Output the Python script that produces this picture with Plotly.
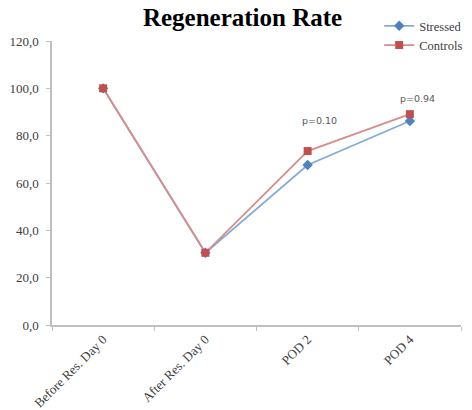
import plotly.graph_objects as go

categories = ["Before Res. Day 0", "After Res. Day 0", "POD 2", "POD 4"]
stressed = [100.0, 30.5, 67.6, 86.2]
controls = [100.0, 30.5, 73.5, 89.1]
p_labels = ["p=0.10", "p=0.94"]
p_cats = ["POD 2", "POD 4"]
p_y = [86.2, 95.5]
y_ticks = [0, 20, 40, 60, 80, 100, 120]

fig = go.Figure()
fig.add_trace(go.Scatter(x=categories, y=stressed, name="Stressed", mode="lines+markers",
                         line=dict(color="#86AAD6", width=1.8),
                         marker=dict(symbol="diamond", size=8, color="#4F81BD")))
fig.add_trace(go.Scatter(x=categories, y=controls, name="Controls", mode="lines+markers",
                         line=dict(color="#D58E8C", width=1.8),
                         marker=dict(symbol="square", size=8, color="#C0504D")))
for c, t, yv, xs in zip(p_cats, p_labels, p_y, [12, 8]):
    fig.add_annotation(x=c, y=yv, text=t, showarrow=False, xshift=xs,
                       font=dict(family="DejaVu Sans", size=9.5, color="#595959"))

fig.update_layout(
    width=472, height=410,
    margin=dict(l=44, r=19, t=33, b=93, autoexpand=False),
    paper_bgcolor="white", plot_bgcolor="white",
    separators=",.",
    title=dict(text="<b>Regeneration Rate</b>", x=0.497, xanchor="center", xref="container",
               y=1.0, yanchor="top", yref="container", pad=dict(t=0, b=0),
               font=dict(family="Liberation Serif", size=25, color="black")),
    legend=dict(x=0.80, xanchor="left", y=1.105, yanchor="top",
                font=dict(family="Liberation Serif", size=12.5, color="#404040"),
                bgcolor="rgba(0,0,0,0)", itemwidth=30, tracegroupgap=0),
    showlegend=True,
)
fig.update_xaxes(type="category", range=[-0.5, 3.5], showline=True, linecolor="#BFBFBF", linewidth=1.5,
                 ticks="outside", tickson="boundaries", ticklen=4, tickcolor="#BFBFBF",
                 tickangle=-45, showgrid=False, automargin=False,
                 tickfont=dict(family="Liberation Serif", size=13, color="#404040"))
fig.update_yaxes(range=[0, 120], tickvals=y_ticks, tickformat=".1f", showline=True, linecolor="#BFBFBF",
                 linewidth=1.5, ticks="outside", ticklen=4, tickcolor="#BFBFBF", showgrid=False,
                 zeroline=False, automargin=False, ticklabelstandoff=5,
                 tickfont=dict(family="Liberation Serif", size=13, color="#404040"))

fig.write_html("out.html")
